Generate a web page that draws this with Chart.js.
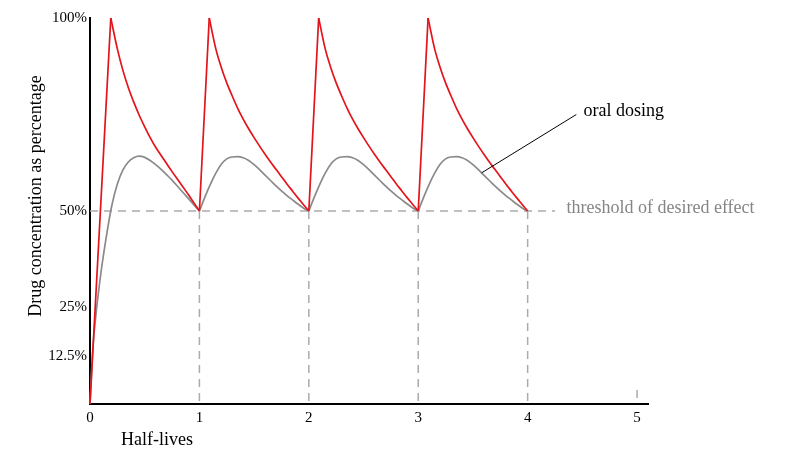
<!DOCTYPE html>
<html><head><meta charset="utf-8">
<script src="https://cdn.jsdelivr.net/npm/chart.js@4/dist/chart.umd.min.js"></script>
<style>html,body{margin:0;padding:0;background:#fff;}#wrap{position:relative;width:787px;height:453px;}</style>
</head><body><div id="wrap"><canvas id="c"></canvas></div>
<script>
// ---- data ----
const xTicks = [0, 1, 2, 3, 4, 5];
const yTicks = [12.5, 25, 50, 100];
const yTickLabels = ['12.5%', '25%', '50%', '100%'];

// IV dosing (red): straight rises, curved decays; null separates pieces
const redRiseX = [0, 0.19, null, 1, 1.09, null, 2, 2.09, null, 3, 3.09];
const redRiseY = [0, 100, null, 50, 100, null, 50, 100, null, 50, 100];
const redDecayX = [
  0.19, 0.25, 0.3, 0.35, 0.4, 0.45, 0.5, 0.55, 0.6, 0.65, 0.7, 0.75, 0.8, 0.85, 0.9, 0.95, 1, null,
  1.09, 1.15, 1.2, 1.25, 1.3, 1.35, 1.4, 1.45, 1.5, 1.55, 1.6, 1.65, 1.7, 1.75, 1.8, 1.85, 1.9, 1.95, 2, null,
  2.09, 2.15, 2.2, 2.25, 2.3, 2.35, 2.4, 2.45, 2.5, 2.55, 2.6, 2.65, 2.7, 2.75, 2.8, 2.85, 2.9, 2.95, 3, null,
  3.09, 3.15, 3.2, 3.25, 3.3, 3.35, 3.4, 3.45, 3.5, 3.55, 3.6, 3.65, 3.7, 3.75, 3.8, 3.85, 3.9, 3.95, 4];
const redDecayY = [
  100, 92, 86.5, 82, 78.2, 74.8, 71.8, 69, 66.5, 64.4, 62.3, 60.2, 58.2, 56.2, 54.2, 52.1, 50, null,
  100, 92, 87.2, 83.2, 79.8, 76.6, 73.8, 71.3, 69, 66.8, 64.7, 62.7, 60.8, 58.9, 57, 55.2, 53.4, 51.7, 50, null,
  100, 92, 87.2, 83.2, 79.8, 76.6, 73.8, 71.3, 69, 66.8, 64.7, 62.7, 60.8, 58.9, 57, 55.2, 53.4, 51.7, 50, null,
  100, 92, 87.2, 83.2, 79.8, 76.6, 73.8, 71.3, 69, 66.8, 64.7, 62.7, 60.8, 58.9, 57, 55.2, 53.4, 51.7, 50];

// oral dosing (grey)
const grayX = [
  0, 0.025, 0.05, 0.1, 0.15, 0.2, 0.25, 0.3, 0.35, 0.4, 0.45, 0.5, 0.55, 0.6, 0.65, 0.7, 0.75, 0.8, 0.85, 0.9, 0.95, 1, null,
  1, 1.05, 1.1, 1.15, 1.2, 1.25, 1.3, 1.35, 1.4, 1.45, 1.5, 1.55, 1.6, 1.65, 1.7, 1.75, 1.8, 1.85, 1.9, 1.95, 2, null,
  2, 2.05, 2.1, 2.15, 2.2, 2.25, 2.3, 2.35, 2.4, 2.45, 2.5, 2.55, 2.6, 2.65, 2.7, 2.75, 2.8, 2.85, 2.9, 2.95, 3, null,
  3, 3.05, 3.1, 3.15, 3.2, 3.25, 3.3, 3.35, 3.4, 3.45, 3.5, 3.55, 3.6, 3.65, 3.7, 3.75, 3.8, 3.85, 3.9, 3.95, 4];
const grayY = [
  0, 14, 22, 34, 43.5, 51.5, 57, 60.6, 62.7, 63.8, 64.2, 63.9, 63.1, 62, 60.8, 59.4, 58, 56.4, 54.8, 53.2, 51.6, 50, null,
  50, 53.6, 56.9, 59.8, 62.1, 63.5, 64, 64.1, 63.8, 63.1, 62, 60.7, 59.3, 57.9, 56.5, 55.2, 54, 52.9, 51.8, 50.8, 50, null,
  50, 53.6, 56.9, 59.8, 62.1, 63.5, 64, 64.1, 63.8, 63.1, 62, 60.7, 59.3, 57.9, 56.5, 55.2, 54, 52.9, 51.8, 50.8, 50, null,
  50, 53.6, 56.9, 59.8, 62.1, 63.5, 64, 64.1, 63.8, 63.1, 62, 60.7, 59.3, 57.9, 56.5, 55.2, 54, 52.9, 51.8, 50.8, 50];

// dashed guides
const thresholdX = [0, 4.25];
const thresholdY = [50, 50];
const dropX = [1, 1, null, 2, 2, null, 3, 3, null, 4, 4, null, 5, 5];
const dropY = [50, 0, null, 50, 0, null, 50, 0, null, 50, 0, null, 3.6, 0];

// annotations (data coordinates)
const oralLabel = {text: 'oral dosing', x: 4.51, y: 74.5};
const oralLeader = [{x: 3.58, y: 59.9}, {x: 4.445, y: 75}];
const thresholdLabel = {text: 'threshold of desired effect', x: 4.355, y: 49.5};
const xTitle = 'Half-lives';
const yTitle = 'Drug concentration as percentage';

// ---- build ----
function pts(xs, ys) {
  return xs.map((x, i) => ({x: x === null ? xs[i - 1] : x, y: ys[i]}));
}
const FONT = '"Liberation Serif", "Times New Roman", serif';

const annot = {
  id: 'annot',
  afterDraw(chart) {
    const {ctx, scales: {x, y}} = chart;
    ctx.save();
    ctx.strokeStyle = '#000';
    ctx.lineWidth = 1;
    ctx.beginPath();
    ctx.moveTo(x.getPixelForValue(oralLeader[0].x), y.getPixelForValue(oralLeader[0].y));
    ctx.lineTo(x.getPixelForValue(oralLeader[1].x), y.getPixelForValue(oralLeader[1].y));
    ctx.stroke();
    ctx.font = '18px ' + FONT;
    ctx.textBaseline = 'alphabetic';
    ctx.textAlign = 'left';
    ctx.fillStyle = '#000';
    ctx.fillText(oralLabel.text, x.getPixelForValue(oralLabel.x), y.getPixelForValue(oralLabel.y));
    ctx.fillStyle = '#858585';
    ctx.fillText(thresholdLabel.text, x.getPixelForValue(thresholdLabel.x), y.getPixelForValue(thresholdLabel.y));
    ctx.fillStyle = '#000';
    ctx.fillText(xTitle, x.left + 31, chart.height - 8.5);
    ctx.translate(40.5, 196);
    ctx.rotate(-Math.PI / 2);
    ctx.textAlign = 'center';
    ctx.fillText(yTitle, 0, 0);
    ctx.restore();
  }
};

const RED = '#e3141b', GREY = '#8a8a8a', DASH = '#ababab';
const base = {showLine: true, pointRadius: 0, pointHoverRadius: 0, fill: false, clip: false, spanGaps: false};

new Chart(document.getElementById('c'), {
  type: 'scatter',
  data: {
    datasets: [
      {...base, data: pts(redRiseX, redRiseY), borderColor: RED, borderWidth: 1.7, tension: 0},
      {...base, data: pts(redDecayX, redDecayY), borderColor: RED, borderWidth: 1.7, cubicInterpolationMode: 'monotone'},
      {...base, data: pts(grayX, grayY), borderColor: GREY, borderWidth: 1.7, cubicInterpolationMode: 'monotone'},
      {...base, data: pts(thresholdX, thresholdY), borderColor: DASH, borderWidth: 1.5, borderDash: [8, 6]},
      {...base, data: pts(dropX, dropY), borderColor: DASH, borderWidth: 1.5, borderDash: [8, 6]}
    ]
  },
  options: {
    responsive: true,
    maintainAspectRatio: false,
    animation: false,
    events: [],
    layout: {padding: {left: 0, top: 18, right: 139, bottom: 0}},
    plugins: {legend: {display: false}, tooltip: {enabled: false}, title: {display: false}},
    scales: {
      x: {
        type: 'linear', min: 0, max: 5.1,
        afterBuildTicks: s => { s.ticks = xTicks.map(v => ({value: v})); },
        afterFit: s => { s.height = 49; },
        grid: {display: false, drawTicks: false},
        border: {display: true, color: '#000', width: 2},
        ticks: {color: '#000', font: {family: FONT, size: 15}, padding: 5, maxRotation: 0, autoSkip: false},
        title: {display: false}
      },
      y: {
        type: 'linear', min: 0, max: 100,
        afterBuildTicks: s => { s.ticks = yTicks.map(v => ({value: v})); },
        afterFit: s => { s.width = 90; },
        grid: {display: false, drawTicks: false},
        border: {display: true, color: '#000', width: 2},
        ticks: {color: '#000', font: {family: FONT, size: 15}, padding: 3, autoSkip: false,
                callback: (v) => yTickLabels[yTicks.indexOf(v)]},
        title: {display: false}
      }
    }
  },
  plugins: [annot]
});
</script>
</body></html>
